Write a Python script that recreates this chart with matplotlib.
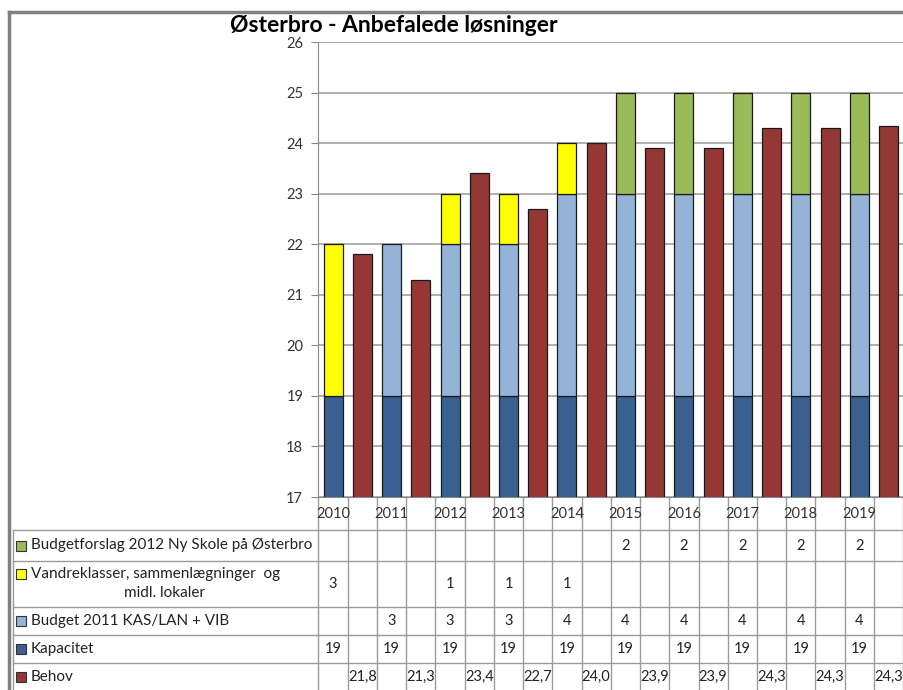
import matplotlib
matplotlib.use("Agg")
import matplotlib.pyplot as plt
import numpy as np
from matplotlib.patches import Rectangle
from matplotlib.transforms import blended_transform_factory

plt.rcParams["font.family"] = ["Lato", "DejaVu Sans"]

years = [2010, 2011, 2012, 2013, 2014, 2015, 2016, 2017, 2018, 2019]
kapacitet = [19, 19, 19, 19, 19, 19, 19, 19, 19, 19]
budget2011 = [0, 3, 3, 3, 4, 4, 4, 4, 4, 4]
vandre = [3, 0, 1, 1, 1, 0, 0, 0, 0, 0]
budgetforslag = [0, 0, 0, 0, 0, 2, 2, 2, 2, 2]
behov = [21.8, 21.3, 23.4, 22.7, 24.0, 23.9, 23.9, 24.3, 24.3, 24.34]

names = [
    "Budgetforslag 2012 Ny Skole på Østerbro",
    "Vandreklasser, sammenlægninger  og",
    "Budget 2011 KAS/LAN + VIB",
    "Kapacitet",
    "Behov",
]
colors = {
    "kap": "#3A6091",
    "bud": "#95B3D7",
    "van": "#FFFF00",
    "gro": "#9BBB59",
    "beh": "#953735",
}

W, H = 904, 690
fig = plt.figure(figsize=(W / 100, H / 100), dpi=100)

# overlay in pixel coords for frame + table
ov = fig.add_axes([0, 0, 1, 1])
ov.set_xlim(0, W)
ov.set_ylim(H, 0)
ov.axis("off")


def px(x0, y0, x1, y1):
    return [x0 / W, 1 - y1 / H, (x1 - x0) / W, (y1 - y0) / H]


ax = fig.add_axes(px(318.5, 42, 904, 497))
ax.set_xlim(-0.5, 19.53)
ax.set_ylim(17, 26)

pos = np.arange(len(years)) * 2
kap = np.array(kapacitet, float)
bud = np.array(budget2011, float)
van = np.array(vandre, float)
gro = np.array(budgetforslag, float)
bw = 0.65
ec = "#1a1a1a"


def stack(vals, bottom, color):
    m = vals > 0
    ax.bar(pos[m], vals[m], bw, bottom=bottom[m], color=color,
           edgecolor=ec, linewidth=0.9, zorder=3)


stack(kap, np.zeros(len(years)), colors["kap"])
stack(bud, kap, colors["bud"])
stack(van, kap + bud, colors["van"])
stack(gro, kap + bud + van, colors["gro"])
ax.bar(pos + 1, behov, bw, color=colors["beh"], edgecolor=ec,
       linewidth=0.9, zorder=3)

ax.set_yticks(range(17, 27))
ax.yaxis.grid(True, color="#9a9a9a", linewidth=1.1, zorder=0)
ax.tick_params(axis="y", length=5, color="#888888", labelsize=10.5,
               labelcolor="#333333", pad=6)
ax.set_xticks([])
for s in ["top", "right"]:
    ax.spines[s].set_visible(False)
ax.spines["left"].set_color("#888888")
ax.spines["bottom"].set_color("#888888")
ax.patch.set_alpha(0)

# frame
ov.plot([9, W], [12, 12], color="#808080", lw=2.5)
ov.plot([9, 9], [12, H], color="#808080", lw=2.5)

fig.text(230 / W, 1 - 25 / H, "Østerbro - Anbefalede løsninger",
         fontsize=16.5, fontweight="bold", ha="left", va="center")

# data table
tr = blended_transform_factory(ax.transData, ov.transData)
rows = [530, 561, 607, 635, 663, 700]
line_c = "#9a9a9a"
for b in np.arange(-0.5, 20.5, 1):
    ov.plot([b, b], [497, H], color=line_c, lw=1, transform=tr)
for r in rows[:-1]:
    ov.plot([13, W], [r, r], color=line_c, lw=1)
ov.plot([13, 13], [530, H], color=line_c, lw=1)

for i, y in enumerate(years):
    ov.text(pos[i], 514, str(y), transform=tr, ha="center", va="center",
            fontsize=10.5, color="#333333")

row_cols = [colors["gro"], colors["van"], colors["bud"], colors["kap"], colors["beh"]]
row_vals = [gro, van, bud, kap, np.array(behov)]
for k in range(5):
    yc = (rows[k] + rows[k + 1]) / 2 if k < 4 else 677
    ky = yc if k != 1 else 574
    ov.add_patch(Rectangle((16, ky - 5), 10, 10, facecolor=row_cols[k],
                           edgecolor="#333333", lw=0.8))
    ov.text(31, ky, names[k], ha="left", va="center", fontsize=11,
            color="#222222")
    if k == 1:
        ov.text(165, 593, "midl. lokaler", ha="center", va="center",
                fontsize=11, color="#222222")
    for i in range(len(years)):
        v = row_vals[k][i]
        if k == 4:
            ov.text(pos[i] + 1, yc, f"{v:.1f}".replace(".", ","), transform=tr,
                    ha="center", va="center", fontsize=10.5, color="#222222")
        elif v > 0:
            ov.text(pos[i], yc, f"{v:g}", transform=tr, ha="center",
                    va="center", fontsize=10.5, color="#222222")

fig.savefig("out.png", dpi=100)
